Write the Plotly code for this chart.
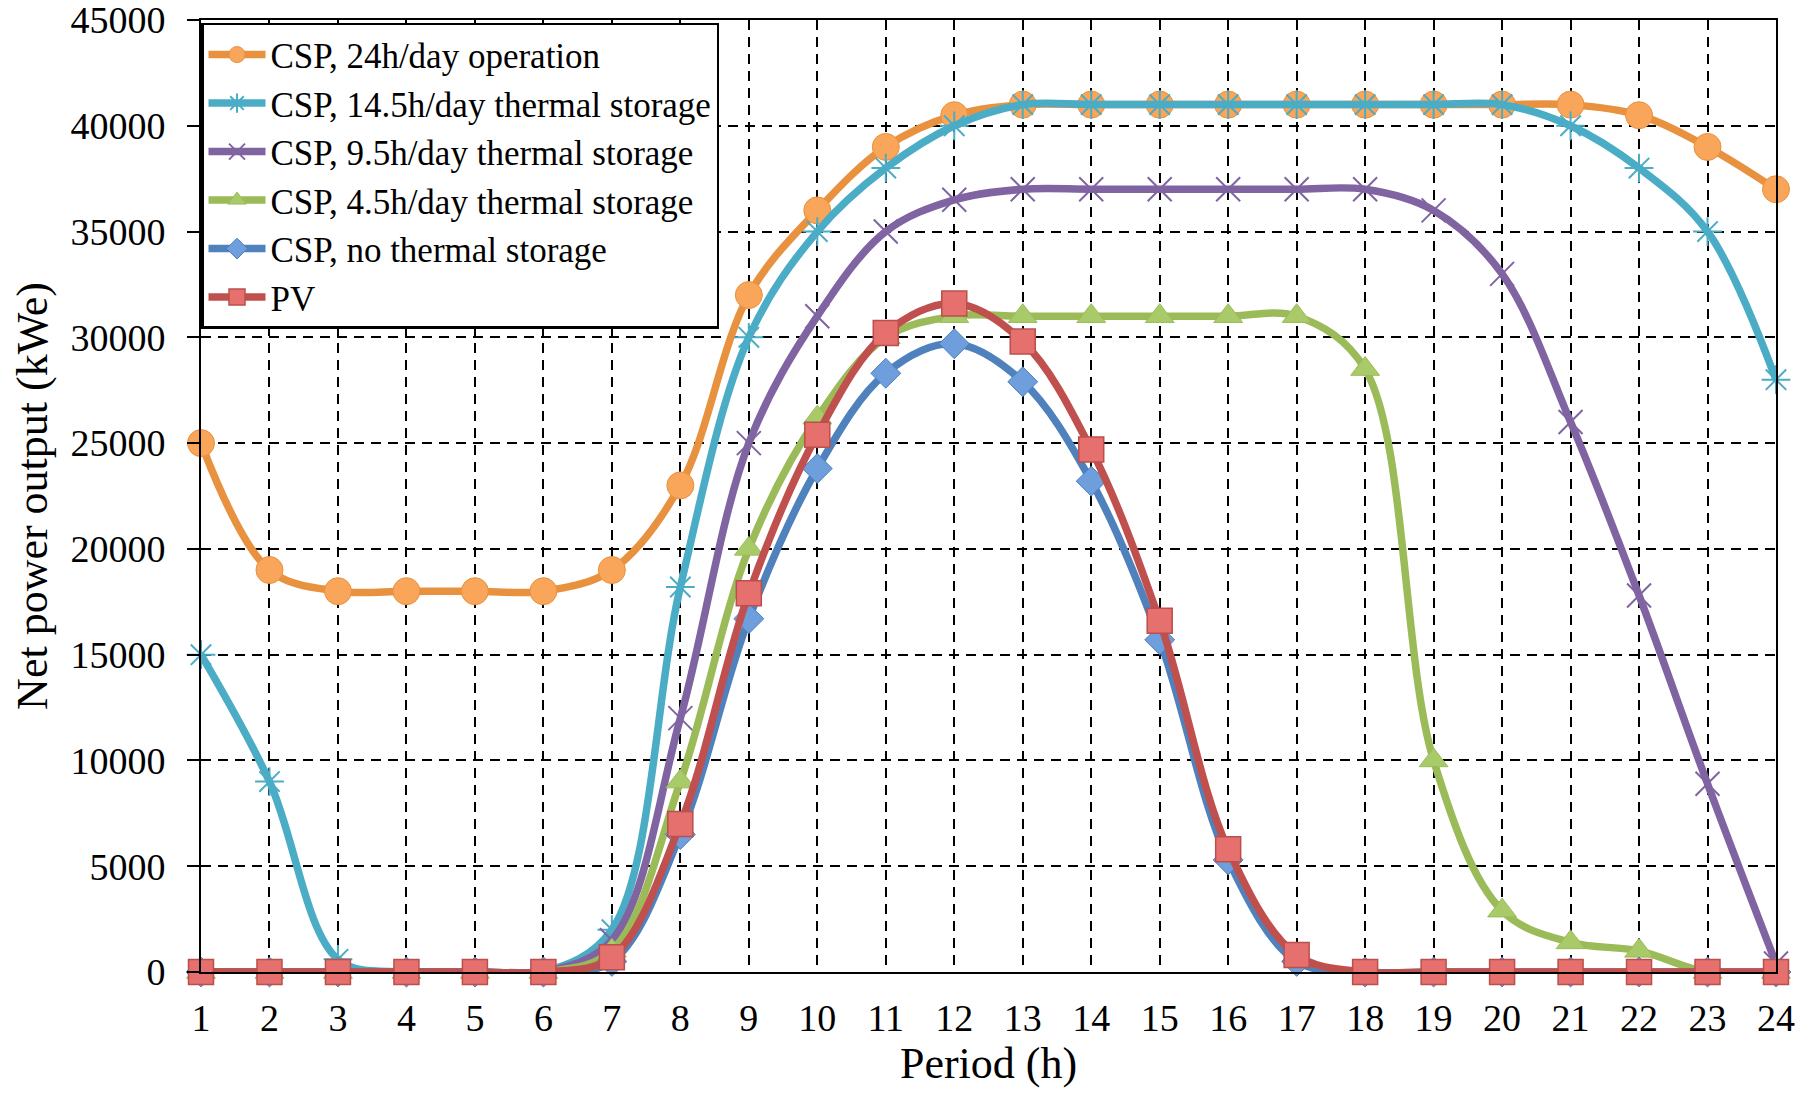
import plotly.graph_objects as go

hours = list(range(1, 25))

csp_24h = [25000, 19000, 18000, 18000, 18000, 18000, 19000, 23000, 32000, 36000, 39000, 40500,
           41000, 41000, 41000, 41000, 41000, 41000, 41000, 41000, 41000, 40500, 39000, 37000]
csp_14h = [15000, 9000, 600, 0, 0, 0, 2000, 18200, 30000, 35000, 38000, 40000,
           41000, 41000, 41000, 41000, 41000, 41000, 41000, 41000, 40000, 38000, 35000, 28000]
csp_9h = [0, 0, 0, 0, 0, 0, 1500, 12000, 25000, 31000, 35000, 36500,
          37000, 37000, 37000, 37000, 37000, 37000, 36000, 33000, 26000, 17800, 8900, 400]
csp_4h = [0, 0, 0, 0, 0, 0, 1000, 9000, 20000, 26200, 30000, 31000,
          31000, 31000, 31000, 31000, 31000, 28500, 10000, 2900, 1400, 1000, 0, 0]
csp_none = [0, 0, 0, 0, 0, 0, 500, 6500, 16700, 23800, 28300, 29700,
            27900, 23200, 15700, 5300, 500, 0, 0, 0, 0, 0, 0, 0]
pv = [0, 0, 0, 0, 0, 0, 700, 7000, 17900, 25400, 30200, 31600,
      29800, 24700, 16600, 5800, 800, 0, 0, 0, 0, 0, 0, 0]

series_names = ["CSP, 24h/day operation", "CSP, 14.5h/day thermal storage",
                "CSP, 9.5h/day thermal storage", "CSP, 4.5h/day thermal storage",
                "CSP, no thermal storage", "PV"]
y_ticks = list(range(0, 45001, 5000))

FONT = "Liberation Serif, Times New Roman, serif"

styles = [
    dict(line="#E8923F", symbol="circle", fill="#F9A55A", edge="#E8923F", size=27, lw=1),
    dict(line="#4BACC6", symbol="asterisk-open", fill="#4BACC6", edge="#7CC4D8", size=24, lw=2),
    dict(line="#8064A2", symbol="x-thin-open", fill="#8064A2", edge="#A893C3", size=24, lw=2),
    dict(line="#9BBB59", symbol="triangle-up", fill="#A9CA69", edge="#9BBB59", size=25, lw=1),
    dict(line="#4F81BD", symbol="diamond", fill="#6E9EDB", edge="#4F81BD", size=23, lw=1),
    dict(line="#C0504D", symbol="square", fill="#E5706D", edge="#B9504D", size=25, lw=1.5),
]
data = [csp_24h, csp_14h, csp_9h, csp_4h, csp_none, pv]

fig = go.Figure()
for name, vals, st in zip(series_names, data, styles):
    fig.add_trace(go.Scatter(
        x=hours, y=vals, name=name, mode="lines+markers",
        line=dict(color=st["line"], width=7.5, shape="spline", smoothing=1.0),
        marker=dict(symbol=st["symbol"], size=st["size"], color=st["fill"],
                    line=dict(color=st["edge"], width=st["lw"])),
        cliponaxis=False,
    ))

fig.update_layout(
    width=1807, height=1094,
    margin=dict(l=201, r=31, t=20, b=122),
    paper_bgcolor="white", plot_bgcolor="white",
    font=dict(family=FONT, color="black", size=38),
    showlegend=True,
    legend=dict(
        x=0, y=0.997, xanchor="left", yanchor="top",
        bgcolor="white", bordercolor="black", borderwidth=2.5,
        font=dict(family=FONT, size=35, color="black"),
        itemwidth=57, tracegroupgap=0, traceorder="normal",
    ),
)
fig.update_xaxes(
    range=[1, 24], tickmode="array", tickvals=hours, ticktext=[str(h) for h in hours],
    showline=True, linecolor="black", linewidth=2, mirror=True,
    showgrid=True, gridcolor="black", gridwidth=2, griddash="10px,7px",
    zeroline=False, ticks="", ticklabelstandoff=11, automargin=False,
    ticklabeloverflow="allow",
    tickfont=dict(family=FONT, size=38),
    title=dict(text="Period (h)", font=dict(family=FONT, size=44), standoff=9),
)
fig.update_yaxes(
    range=[0, 45000], tickmode="array", tickvals=y_ticks, ticktext=[str(v) for v in y_ticks],
    showline=True, linecolor="black", linewidth=2, mirror=True,
    showgrid=True, gridcolor="black", gridwidth=2, griddash="10px,7px",
    zeroline=False, ticks="outside", ticklen=12, tickwidth=2, tickcolor="black",
    ticklabelstandoff=14, automargin=False, ticklabeloverflow="allow",
    tickfont=dict(family=FONT, size=38),
    title=dict(text="Net power output (kWe)", font=dict(family=FONT, size=44), standoff=9),
)

# remove the browser's default 8px body margin so the figure fills the window exactly
fig.write_html("out.html", config={"displayModeBar": False},
               post_script="document.body.style.margin='0';")
